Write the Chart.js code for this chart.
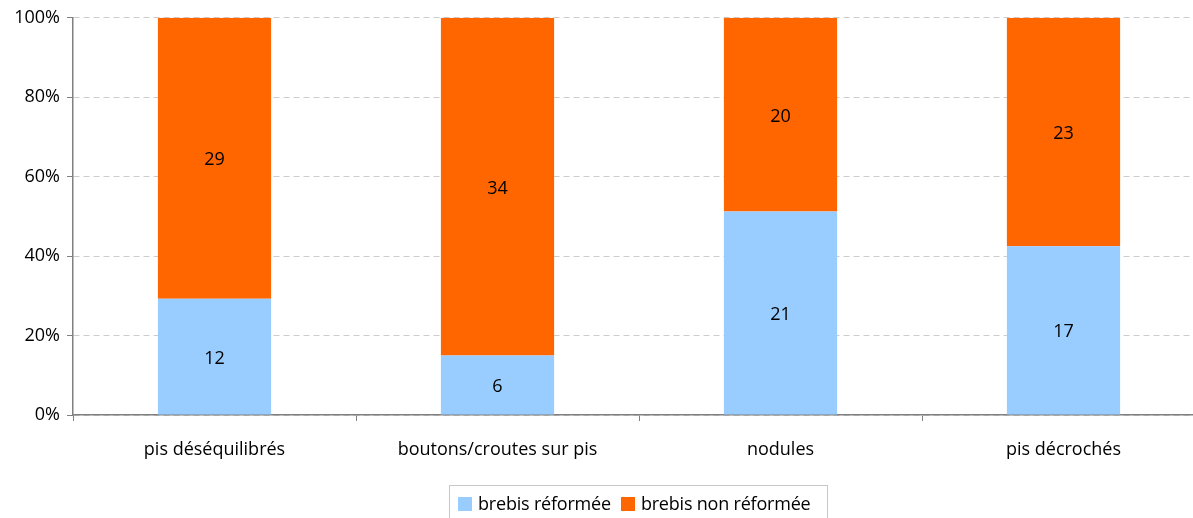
<!DOCTYPE html>
<html>
<head>
<meta charset="utf-8">
<script src="https://cdn.jsdelivr.net/npm/chart.js@4/dist/chart.umd.min.js"></script>
<style>
  html, body { margin: 0; padding: 0; background: #fff; overflow: hidden; }
  #wrap { position: relative; width: 1193px; height: 518px; overflow: hidden; }
  #box { position: absolute; left: 0; top: 0; width: 1210px; height: 518px; }
  #legend {
    position: absolute; left: 449px; top: 485px; width: 379px; height: 40px;
    border: 1px solid #c8c8c8; box-sizing: border-box;
    font-family: "Open Sans", sans-serif; font-size: 18px; color: #000;
    padding: 5px 0 0 8px; white-space: nowrap; letter-spacing: -0.2px;
  }
  #legend span.sw { display: inline-block; width: 14px; height: 14px; margin-right: 6px; vertical-align: -1px; }
  #legend span.item { margin-right: 10px; }
</style>
</head>
<body>
<div id="wrap">
  <div id="box"><canvas id="chart"></canvas></div>
  <div id="legend"></div>
</div>
<script>
// données
const categories = ["pis déséquilibrés", "boutons/croutes sur pis", "nodules", "pis décrochés"];
const reformee = [12, 6, 21, 17];
const nonReformee = [29, 34, 20, 23];
const yTicks = [0, 20, 40, 60, 80, 100];

const seriesNames = ["brebis réformée", "brebis non réformée"];
const colors = ["#99CCFF", "#FF6600"];

function toPct(arr) {
  return arr.map((v, i) => (100 * v) / (reformee[i] + nonReformee[i]));
}

const counts = [reformee, nonReformee];

// étiquettes au centre des segments
const segmentLabels = {
  id: "segmentLabels",
  afterDatasetsDraw(chart) {
    const ctx = chart.ctx;
    ctx.save();
    ctx.font = '18px "Open Sans", sans-serif';
    ctx.fillStyle = "#000";
    ctx.textAlign = "center";
    ctx.textBaseline = "middle";
    chart.data.datasets.forEach((ds, di) => {
      chart.getDatasetMeta(di).data.forEach((bar, i) => {
        const mid = (bar.y + bar.base) / 2;
        ctx.fillText(String(counts[di][i]), bar.x, mid + 2);
      });
    });
    ctx.restore();
  },
};

const ctx = document.getElementById("chart").getContext("2d");
new Chart(ctx, {
  type: "bar",
  data: {
    labels: categories,
    datasets: [
      { label: seriesNames[0], data: toPct(reformee), backgroundColor: colors[0] },
      { label: seriesNames[1], data: toPct(nonReformee), backgroundColor: colors[1] },
    ],
  },
  options: {
    responsive: true,
    maintainAspectRatio: false,
    animation: false,
    layout: { padding: { top: 17, right: 5, left: 0, bottom: 0 } },
    datasets: { bar: { barPercentage: 0.4, categoryPercentage: 1 } },
    plugins: { legend: { display: false }, tooltip: { enabled: false } },
    scales: {
      x: {
        stacked: true,
        offset: true,
        grid: { offset: true, drawOnChartArea: false, drawTicks: true, tickLength: 6, color: "#808080" },
        border: { color: "#808080", width: 1.5 },
        ticks: { color: "#000", padding: 18, font: { family: "Open Sans", size: 18 } },
        afterFit(scale) { scale.height = 103; },
      },
      y: {
        stacked: true,
        min: 0,
        max: 100,
        afterBuildTicks(scale) { scale.ticks = yTicks.map((v) => ({ value: v })); },
        grid: { color: "#cccccc", tickColor: "#808080", tickLength: 6, tickBorderDash: [] },
        border: { color: "#808080", width: 1.5, dash: [6, 4] },
        ticks: {
          color: "#000",
          padding: 7,
          font: { family: "Open Sans", size: 18 },
          callback: (v) => v + "%",
        },
        afterFit(scale) { scale.width = 73; },
      },
    },
  },
  plugins: [segmentLabels],
});

// légende HTML
const legend = document.getElementById("legend");
seriesNames.forEach((name, i) => {
  const item = document.createElement("span");
  item.className = "item";
  item.innerHTML = '<span class="sw" style="background:' + colors[i] + '"></span>' + name;
  legend.appendChild(item);
});
</script>
</body>
</html>
